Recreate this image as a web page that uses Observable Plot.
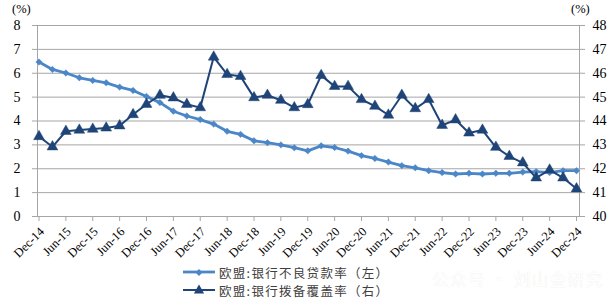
<!DOCTYPE html>
<html>
<head>
<meta charset="utf-8">
<script src="https://cdn.jsdelivr.net/npm/d3@7"></script>
<script src="https://cdn.jsdelivr.net/npm/@observablehq/plot@0.6"></script>
<style>
  html, body { margin: 0; padding: 0; background: #fff; }
  #wrap { position: relative; width: 616px; height: 302px; overflow: hidden; }
  #chart svg { display: block; }
  .unit { position: absolute; top: 2px; font: 12.5px/14px "Liberation Serif", serif; color: #000; }
  .legend { position: absolute; left: 0; top: 258px; width: 616px; height: 44px; }
  .row { position: absolute; left: 183px; height: 18px; display: flex; align-items: center;
         font: 12.5px "Noto Sans CJK SC", sans-serif; color: #404040; letter-spacing: 1.3px; white-space: nowrap; }
  .row svg { margin-right: 3px; }
  .wm { position: absolute; left: 432px; top: 266px; font: 17px "Noto Sans CJK SC", sans-serif;
        color: #ffffff; text-shadow: 0 0 1px #e4e4e4; letter-spacing: 1px; white-space: nowrap; }
</style>
</head>
<body>
<div id="wrap">
  <div id="chart"></div>
  <div class="unit" style="left:12px">(%)</div>
  <div class="unit" style="left:571px">(%)</div>
  <div class="legend" id="legend"></div>
  <div class="wm">公众号 · 刘山金研究</div>
</div>
<script>
// Quarterly categories, Dec-14 .. Dec-24
const quarters = ["Dec-14","Mar-15","Jun-15","Sep-15","Dec-15","Mar-16","Jun-16","Sep-16","Dec-16",
  "Mar-17","Jun-17","Sep-17","Dec-17","Mar-18","Jun-18","Sep-18","Dec-18","Mar-19","Jun-19","Sep-19",
  "Dec-19","Mar-20","Jun-20","Sep-20","Dec-20","Mar-21","Jun-21","Sep-21","Dec-21","Mar-22","Jun-22",
  "Sep-22","Dec-22","Mar-23","Jun-23","Sep-23","Dec-23","Mar-24","Jun-24","Sep-24","Dec-24"];

// 欧盟:银行不良贷款率（左） %
const nplRatio = [6.47,6.16,6.01,5.81,5.70,5.60,5.42,5.28,5.03,4.77,4.41,4.21,4.06,3.87,3.57,3.44,
  3.17,3.09,3.00,2.88,2.75,2.96,2.89,2.74,2.55,2.43,2.28,2.13,2.04,1.92,1.84,1.78,1.81,1.78,1.81,
  1.81,1.86,1.88,1.84,1.92,1.92];

// 欧盟:银行拨备覆盖率（右） %
const coverageRatio = [43.35,42.92,43.57,43.62,43.66,43.71,43.80,44.27,44.70,45.08,44.97,44.70,
  44.56,46.68,45.95,45.87,44.98,45.08,44.87,44.56,44.69,45.91,45.45,45.45,44.90,44.62,44.25,45.08,
  44.52,44.90,43.82,44.05,43.50,43.62,42.90,42.52,42.25,41.62,41.95,41.62,41.16];

const leftTicks = [0,1,2,3,4,5,6,7,8];
const rightTicks = [40,41,42,43,44,45,46,47,48];
const rightBase = 40;

const lightBlue = "#4a86c8";
const darkBlue = "#1f4477";
const gridColor = "#a6a6a6";

const npl = quarters.map((q, i) => ({i, q, v: nplRatio[i]}));
const cov = quarters.map((q, i) => ({i, q, v: coverageRatio[i] - rightBase}));
const xTicks = quarters.map((q, i) => i).filter(i => i % 2 === 0);

const chart = Plot.plot({
  width: 616,
  height: 258,
  marginTop: 25,
  marginBottom: 42,
  marginLeft: 37,
  marginRight: 37,
  style: {fontFamily: "Liberation Serif, serif", background: "#fff", overflow: "visible"},
  x: {type: "linear", domain: [0, quarters.length - 1], insetLeft: 1.5, insetRight: 3},
  y: {domain: [0, 8]},
  marks: [
    Plot.ruleY(leftTicks.slice(1), {stroke: gridColor, strokeWidth: 1}),
    Plot.frame({stroke: gridColor, strokeWidth: 1}),
    Plot.axisY({ticks: leftTicks, tickSize: 5, tickPadding: 12, stroke: gridColor, fill: "#000",
      fontSize: 14, label: null, anchor: "left"}),
    Plot.axisY({ticks: leftTicks, tickSize: 5, tickPadding: 8, stroke: gridColor, fill: "#000",
      fontSize: 14, label: null, anchor: "right", tickFormat: (d, k) => String(rightTicks[k])}),
    Plot.axisX({ticks: xTicks, tickSize: 5, stroke: gridColor, text: null, label: null}),
    Plot.axisX({ticks: xTicks, tickFormat: i => quarters[i], tickRotate: -45, tickSize: 0,
      tickPadding: 13, dx: 3, fill: "#000", fontSize: 12.5, label: null}),
    Plot.line(npl, {x: "i", y: "v", stroke: lightBlue, strokeWidth: 2.8}),
    Plot.dot(npl, {x: "i", y: "v", symbol: "diamond2", r: 2.9, fill: lightBlue, stroke: lightBlue, strokeWidth: 0.5}),
    Plot.line(cov, {x: "i", y: "v", stroke: darkBlue, strokeWidth: 2}),
    Plot.dot(cov, {x: "i", y: "v", symbol: "triangle", r: 4, fill: darkBlue, stroke: darkBlue, strokeWidth: 0.5})
  ]
});
document.getElementById("chart").appendChild(chart);

// Legend
const legendItems = [
  {label: "欧盟:银行不良贷款率（左）", color: lightBlue, symbol: d3.symbolDiamond2, size: 30, width: 2.8, top: 5},
  {label: "欧盟:银行拨备覆盖率（右）", color: darkBlue, symbol: d3.symbolTriangle, size: 45, width: 2, top: 23}
];
const legend = document.getElementById("legend");
for (const item of legendItems) {
  const row = document.createElement("div");
  row.className = "row";
  row.style.top = item.top + "px";
  const sw = d3.create("svg").attr("width", 33).attr("height", 12);
  sw.append("line").attr("x1", 0).attr("x2", 32).attr("y1", 6).attr("y2", 6)
    .attr("stroke", item.color).attr("stroke-width", item.width);
  sw.append("path").attr("d", d3.symbol(item.symbol, item.size)()).attr("transform", "translate(16,6.5)")
    .attr("fill", item.color);
  row.appendChild(sw.node());
  const t = document.createElement("span");
  t.textContent = item.label;
  row.appendChild(t);
  legend.appendChild(row);
}
</script>
</body>
</html>
